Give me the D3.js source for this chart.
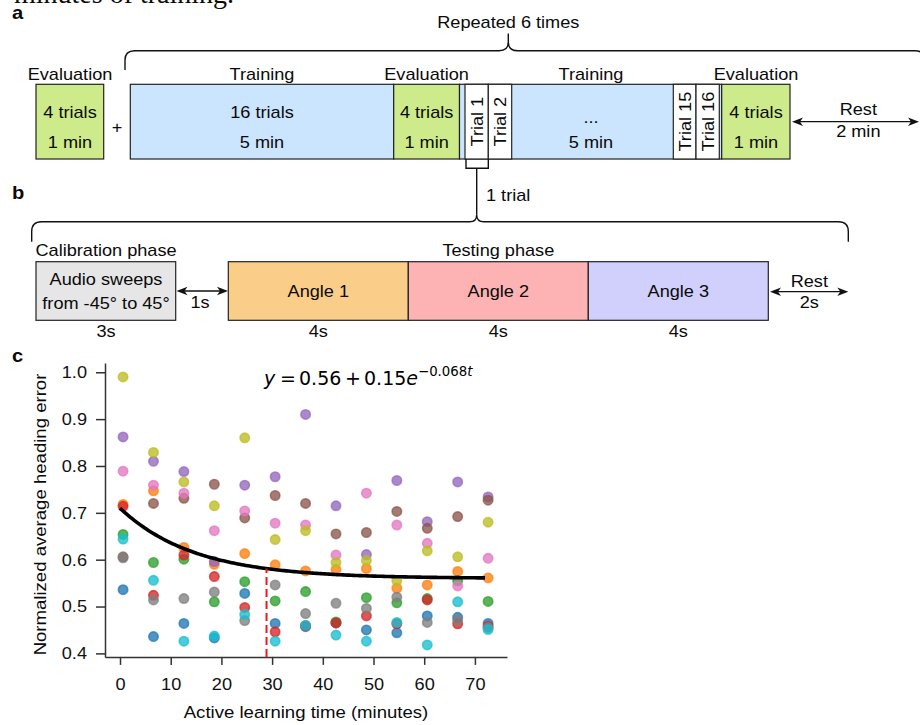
<!DOCTYPE html>
<html>
<head>
<meta charset="utf-8">
<script src="https://cdn.jsdelivr.net/npm/d3@7"></script>
<style>
  html, body { margin: 0; padding: 0; background: #fff; }
  svg { display: block; }
</style>
</head>
<body>
<svg id="fig" width="920" height="725"></svg>
<script>
// ---------------- DATA (panel c) ----------------
const evalTimes = [0.6, 6.6, 12.6, 18.6, 24.6, 30.6, 36.6, 42.6, 48.6, 54.6, 60.6, 66.6, 72.6];
const participantBlue   = [0.536, 0.436, 0.464, 0.433, 0.528, 0.464, 0.457, 0.465, 0.450, 0.444, 0.480, 0.477, 0.464];
const participantOrange = [0.718, 0.747, 0.626, 0.590, 0.613, 0.589, 0.576, 0.579, 0.581, 0.539, 0.546, 0.575, 0.561];
const participantGreen  = [0.654, 0.594, 0.601, 0.510, 0.553, 0.512, 0.532, 0.467, 0.519, 0.508, 0.517, 0.555, 0.511];
const participantRed    = [0.714, 0.524, 0.610, 0.564, 0.498, 0.446, 0.459, 0.465, 0.480, 0.463, 0.514, 0.463, 0.458];
const participantPurple = [0.862, 0.810, 0.788, 0.596, 0.759, 0.777, 0.910, 0.715, 0.611, 0.769, 0.681, 0.766, 0.734];
const participantBrown  = [0.606, 0.720, 0.731, 0.761, 0.689, 0.737, 0.720, 0.655, 0.658, 0.703, 0.667, 0.692, 0.727];
const participantPink   = [0.789, 0.759, 0.742, 0.662, 0.704, 0.678, 0.674, 0.610, 0.742, 0.674, 0.635, 0.544, 0.603];
const participantGray   = [0.604, 0.514, 0.517, 0.531, 0.470, 0.546, 0.485, 0.507, 0.496, 0.520, 0.466, 0.471, 0.455];
const participantOlive  = [0.990, 0.829, 0.766, 0.715, 0.860, 0.643, 0.662, 0.594, 0.598, 0.555, 0.619, 0.606, 0.680];
const participantCyan   = [0.644, 0.556, 0.426, 0.437, 0.483, 0.426, 0.460, 0.439, 0.426, 0.466, 0.418, 0.510, 0.451];
const seriesColors = ["#1f77b4", "#ff7f0e", "#2ca02c", "#d62728", "#9467bd", "#8c564b", "#e377c2", "#7f7f7f", "#bcbd22", "#17becf"];
const xTickValues = [0, 10, 20, 30, 40, 50, 60, 70];
const yTickValues = [0.4, 0.5, 0.6, 0.7, 0.8, 0.9, 1.0];
// fitted curve y = a + b e^{-k t}
const fitA = 0.56, fitB = 0.15, fitK = 0.068;
const fitStart = 0, fitEnd = 72.3;
const thresholdTime = 28.9;

// ---------------- DATA (panels a, b labels) ----------------
const captionText = "minutes of training.";
const panelLetters = ["a", "b", "c"];
const evalLabels = ["4 trials", "1 min"];
const trainLabels1 = ["16 trials", "5 min"];
const trainLabels2 = ["...", "5 min"];
const trialLabels = ["Trial 1", "Trial 2", "Trial 15", "Trial 16"];
const angleLabels = ["Angle 1", "Angle 2", "Angle 3"];
const angleDurations = ["4s", "4s", "4s"];

// ---------------- helpers ----------------
const svg = d3.select("#fig");
const FONT = "'Liberation Sans', Arial, Helvetica, sans-serif";
const SX = 1.08;
const INK = "#0a0a0a";

function txt(g, x, y, s, opt = {}) {
  const size = opt.size || 16.8;
  const rot = opt.rotate ? ` rotate(${opt.rotate})` : "";
  return g.append("text")
    .attr("transform", `translate(${x},${y})${rot} scale(${opt.sx || SX},1)`)
    .attr("text-anchor", opt.anchor || "middle")
    .attr("font-family", opt.family || FONT)
    .attr("font-size", size)
    .attr("font-weight", opt.weight || "normal")
    .attr("fill", opt.fill || INK)
    .text(s);
}
function box(g, x0, y0, x1, y1, fill) {
  return g.append("rect").attr("x", x0).attr("y", y0)
    .attr("width", x1 - x0).attr("height", y1 - y0)
    .attr("fill", fill).attr("stroke", "#222").attr("stroke-width", 1.2);
}
function arrowHead(g, x, y, dir) {
  g.append("path")
    .attr("d", `M${x},${y} L${x - dir * 11},${y - 4.3} L${x - dir * 8},${y} L${x - dir * 11},${y + 4.3} Z`)
    .attr("fill", "#111");
}
function dblArrow(g, x1, x2, y) {
  g.append("line").attr("x1", x1 + 4).attr("x2", x2 - 4).attr("y1", y).attr("y2", y)
    .attr("stroke", "#111").attr("stroke-width", 1.3);
  arrowHead(g, x1, y, -1);
  arrowHead(g, x2, y, 1);
}
const pathStyle = p => p.attr("fill", "none").attr("stroke", "#111").attr("stroke-width", 1.4);

// ---------------- caption fragment ----------------
svg.append("text").attr("x", 14).attr("y", 3)
  .attr("font-family", "'Liberation Serif', 'Times New Roman', serif")
  .attr("font-size", 28).attr("fill", INK).text(captionText);

// ---------------- PANEL A ----------------
const A = svg.append("g");
txt(A, 12, 19, panelLetters[0], { anchor: "start", weight: "bold", size: 17.5, sx: 1.15 });

const aTop = 84.3, aBot = 159;
const cEval = "#cdeb8b", cTrain = "#cce5ff";
box(A, 36, aTop, 103.7, aBot, cEval);
box(A, 130.3, aTop, 393.7, aBot, cTrain);
box(A, 393.7, aTop, 459.5, aBot, cEval);
box(A, 459.5, aTop, 721.7, aBot, cTrain);
const trialBounds = [[465, 488.3], [488.3, 511.7], [673.3, 696], [696, 719.3]];
trialBounds.forEach((b, i) => {
  box(A, b[0], aTop, b[1], aBot, "#ffffff");
  txt(A, (b[0] + b[1]) / 2 + 5.9, (aTop + aBot) / 2, trialLabels[i], { rotate: -90 });
});
box(A, 721.7, aTop, 790, aBot, cEval);

txt(A, 70, 80, "Evaluation");
txt(A, 262, 80, "Training");
txt(A, 426.6, 80, "Evaluation");
txt(A, 591, 80, "Training");
txt(A, 756, 80, "Evaluation");
txt(A, 117, 133, "+");
[70, 426.6, 756].forEach(cx => {
  txt(A, cx, 117.5, evalLabels[0]);
  txt(A, cx, 148.3, evalLabels[1]);
});
txt(A, 262, 117.5, trainLabels1[0]);
txt(A, 262, 148.3, trainLabels1[1]);
txt(A, 591, 122.5, trainLabels2[0]);
txt(A, 591, 147.8, trainLabels2[1]);
dblArrow(A, 792, 919, 121.7);
txt(A, 858.3, 115, "Rest");
txt(A, 858.3, 137.3, "2 min");
pathStyle(A.append("path").attr("d",
  "M125,70 L125,60 Q125,50.7 134.5,50.7 L499,50.7 Q508.3,50.7 508.3,42 L508.3,33.5 " +
  "M508.3,42 Q508.3,50.7 517.6,50.7 L915,50.7 Q924.5,50.7 924.5,60 L924.5,70"));
txt(A, 508.3, 28.3, "Repeated 6 times");

pathStyle(A.append("path").attr("d", "M466,159 L466,168.3 L488.3,168.3 L488.3,159 M476.7,168.3 L476.7,214.7"));

// ---------------- PANEL B ----------------
const B = svg.append("g");
txt(B, 12, 199, panelLetters[1], { anchor: "start", weight: "bold", size: 17.5, sx: 1.15 });
pathStyle(B.append("path").attr("d",
  "M31.7,241.7 L31.7,231.5 Q31.7,221.7 41.5,221.7 L469.7,221.7 Q476.7,221.7 476.7,214.7 " +
  "M476.7,214.7 Q476.7,221.7 483.7,221.7 L838.5,221.7 Q848.3,221.7 848.3,231.5 L848.3,241.7"));
txt(B, 486, 200.5, "1 trial", { anchor: "start" });

const bTop = 261.7, bBot = 320.3;
box(B, 36, bTop, 175.7, bBot, "#e6e6e6");
txt(B, 106, 255.7, "Calibration phase");
txt(B, 106, 285, "Audio sweeps");
txt(B, 106, 309, "from -45° to 45°");
txt(B, 106, 337, "3s");
dblArrow(B, 176.5, 228, 291);
txt(B, 200, 308.3, "1s");

const angleFills = ["#facd88", "#fdb3b3", "#d1cffc"];
const angleX = [228.3, 408.3, 588.3, 768.3];
angleLabels.forEach((lab, i) => {
  box(B, angleX[i], bTop, angleX[i + 1], bBot, angleFills[i]);
  const cx = (angleX[i] + angleX[i + 1]) / 2;
  txt(B, cx, 297, lab);
  txt(B, cx, 337, angleDurations[i]);
});
txt(B, 498.3, 255.7, "Testing phase");
dblArrow(B, 770, 848.3, 291.7);
txt(B, 809.3, 286.7, "Rest");
txt(B, 809.3, 307.7, "2s");

// ---------------- PANEL C ----------------
const C = svg.append("g");
txt(C, 12, 362, panelLetters[2], { anchor: "start", weight: "bold", size: 17.5, sx: 1.15 });

const x = d3.scaleLinear().domain([-2.96, 76.33]).range([105, 507]);
const y = d3.scaleLinear().domain([0.3925, 1.02]).range([656.9, 362.9]);

const xAxis = C.append("g").attr("transform", `translate(0,${y.range()[0]})`)
  .call(d3.axisBottom(x).tickValues(xTickValues).tickFormat(d3.format("d"))
    .tickSize(8).tickSizeOuter(0).tickPadding(13));
const yAxis = C.append("g").attr("transform", `translate(${x.range()[0]},0)`)
  .call(d3.axisLeft(y).tickValues(yTickValues).tickFormat(d3.format(".1f"))
    .tickSize(9).tickSizeOuter(0).tickPadding(9));
[xAxis, yAxis].forEach(ax => {
  ax.select(".domain").attr("stroke", "#333").attr("stroke-width", 1.5);
  ax.selectAll(".tick line").attr("stroke", "#333").attr("stroke-width", 1.5);
  ax.selectAll(".tick text").each(function () {
    const t = d3.select(this);
    const tx = +t.attr("x") || 0;
    t.attr("x", 0).attr("transform", `translate(${tx},0) scale(${SX},1)`)
      .attr("font-family", FONT).attr("font-size", 16.8).attr("fill", "#111");
  });
});

txt(C, 306, 718.3, "Active learning time (minutes)", { size: 17.2 });
txt(C, 45.5, 514.5, "Normalized average heading error", { size: 17.2, rotate: -90 });

const allSeries = [participantBlue, participantOrange, participantGreen, participantRed, participantPurple,
  participantBrown, participantPink, participantGray, participantOlive, participantCyan];
allSeries.forEach((vals, si) => {
  C.append("g").selectAll("circle").data(vals).join("circle")
    .attr("cx", (d, i) => x(evalTimes[i]))
    .attr("cy", d => y(d))
    .attr("r", 4.7)
    .attr("fill", seriesColors[si]).attr("fill-opacity", 0.78)
    .attr("stroke", seriesColors[si]).attr("stroke-opacity", 0.72).attr("stroke-width", 1.6);
});

const fit = t => fitA + fitB * Math.exp(-fitK * t);
const fitTs = d3.range(fitStart, fitEnd + 0.001, 0.4);
C.append("path").datum(fitTs)
  .attr("d", d3.line().x(t => x(t)).y(t => y(fit(t))))
  .attr("fill", "none").attr("stroke", "#000").attr("stroke-width", 3.6);

C.append("line")
  .attr("x1", x(thresholdTime)).attr("x2", x(thresholdTime))
  .attr("y1", y.range()[0]).attr("y2", y(fit(thresholdTime)))
  .attr("stroke", "#f01818").attr("stroke-width", 2).attr("stroke-dasharray", "8,4");

// equation (mathtext-like spacing)
const eq = C.append("text").attr("y", 385)
  .attr("font-family", "'DejaVu Sans', sans-serif").attr("font-size", 19).attr("fill", "#000");
eq.append("tspan").attr("x", 264).attr("font-style", "italic").text("y");
eq.append("tspan").attr("x", 280).text("=");
eq.append("tspan").attr("x", 299).text(`${fitA.toFixed(2)}`);
eq.append("tspan").attr("x", 345).text("+");
eq.append("tspan").attr("x", 364).text(`${fitB.toFixed(2)}`);
eq.append("tspan").attr("font-style", "italic").text("e");
eq.append("tspan").attr("font-size", 13.3).attr("dy", -9).text(`\u2212${fitK}`);
eq.append("tspan").attr("font-size", 13.3).attr("font-style", "italic").text("t");
</script>
</body>
</html>
